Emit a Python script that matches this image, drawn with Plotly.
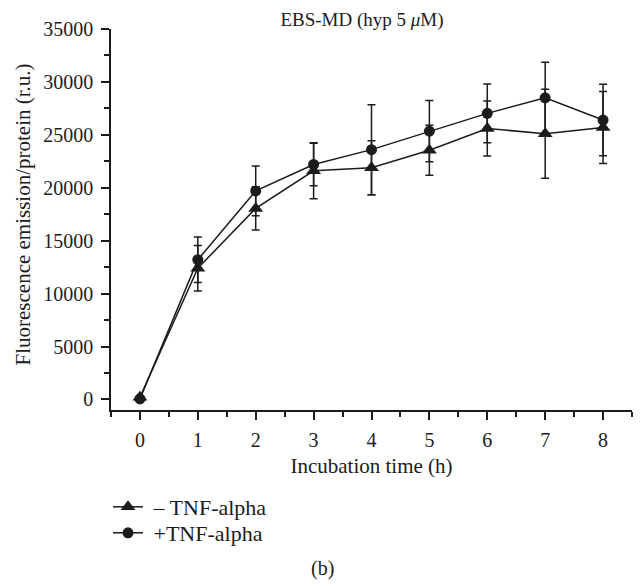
import plotly.graph_objects as go

hours = [0, 1, 2, 3, 4, 5, 6, 7, 8]
minus_tnf = [200, 12400, 18050, 21600, 21900, 23550, 25600, 25100, 25700]
minus_tnf_err = [0, 2150, 2050, 2650, 2550, 2360, 2600, 4200, 3400]
plus_tnf = [50, 13200, 19700, 22200, 23600, 25350, 27030, 28500, 26400]
plus_tnf_err = [0, 2150, 2350, 2000, 4250, 2900, 2770, 3350, 3370]
xtick_vals = [0, 1, 2, 3, 4, 5, 6, 7, 8]
ytick_vals = [0, 5000, 10000, 15000, 20000, 25000, 30000, 35000]

FONT = "Liberation Serif"
INK = "#1e1b1c"
OFF = 8  # default body margin of the html page
W, H = 641 - OFF, 586 - OFF
# plot area in page pixels -> figure pixels
L, R, T, B = 111 - OFF, 632 - OFF, 29 - OFF, 410 - OFF
PH = B - T
PW = R - L


def px(xpage):
    return (xpage - OFF - L) / PW


def py(ypage):
    return (B - (ypage - OFF)) / PH


fig = go.Figure()
fig.add_trace(go.Scatter(
    x=hours, y=minus_tnf, name="\u00a0\u2013 TNF-alpha", mode="lines+markers",
    line=dict(color=INK, width=1.5),
    marker=dict(symbol="triangle-up", size=13, color=INK),
    error_y=dict(type="data", array=minus_tnf_err, visible=True, color=INK, thickness=1.5, width=4),
    legend="legend",
))
fig.add_trace(go.Scatter(
    x=hours, y=plus_tnf, name="\u00a0+TNF-alpha", mode="lines+markers",
    line=dict(color=INK, width=1.5),
    marker=dict(symbol="circle", size=11, color=INK),
    error_y=dict(type="data", array=plus_tnf_err, visible=True, color=INK, thickness=1.5, width=4),
    legend="legend2",
))

leg_common = dict(xref="paper", yref="paper", xanchor="left", yanchor="middle",
                  font=dict(family=FONT, size=22, color=INK), bgcolor="rgba(0,0,0,0)",
                  itemwidth=30, borderwidth=0)
fig.update_layout(
    width=W, height=H,
    margin=dict(l=L, r=W - R, t=T, b=H - B, autoexpand=False),
    paper_bgcolor="white", plot_bgcolor="white",
    font=dict(family=FONT, size=20, color=INK),
    title=dict(text="EBS-MD (hyp 5 <i>\u03bc</i>M)", x=px(362), xref="paper", xanchor="center",
               y=1 - (19 - OFF) / H, yref="container", yanchor="middle",
               font=dict(family=FONT, size=19, color=INK)),
    showlegend=True,
    legend=dict(x=px(108), y=py(507), **leg_common),
    legend2=dict(x=px(108), y=py(533), **leg_common),
)
fig.update_xaxes(
    range=[-0.5, 8.5], tickvals=xtick_vals, showline=True, linecolor=INK, linewidth=1.5,
    ticks="outside", ticklen=8, tickwidth=1.5, tickcolor=INK, showgrid=False, zeroline=False,
    minor=dict(dtick=0.5, tick0=0, ticks="outside", ticklen=5, tickwidth=1.5, tickcolor=INK, showgrid=False),
    title=dict(text="Incubation time (h)", font=dict(family=FONT, size=21), standoff=9),
    tickfont=dict(family=FONT, size=20), ticklabelstandoff=3, automargin=False,
)
fig.update_yaxes(
    range=[-1000, 35000], tickvals=ytick_vals, tickformat="d", showline=True, linecolor=INK, linewidth=1.5,
    ticks="outside", ticklen=8, tickwidth=1.5, tickcolor=INK, showgrid=False, zeroline=False,
    minor=dict(dtick=2500, tick0=0, ticks="outside", ticklen=5, tickwidth=1.5, tickcolor=INK, showgrid=False),
    tickfont=dict(family=FONT, size=20), ticklabelstandoff=4, automargin=False,
)
fig.add_annotation(text="Fluorescence emission/protein (r.u.)", textangle=-90,
                   x=px(22), xref="paper", y=py(214.5), yref="paper",
                   showarrow=False, font=dict(family=FONT, size=21, color=INK),
                   xanchor="center", yanchor="middle")
fig.add_annotation(text="(b)", x=px(322), xref="paper", y=py(568), yref="paper",
                   showarrow=False, font=dict(family=FONT, size=20, color=INK),
                   xanchor="center", yanchor="middle")
fig.write_html("out.html")
